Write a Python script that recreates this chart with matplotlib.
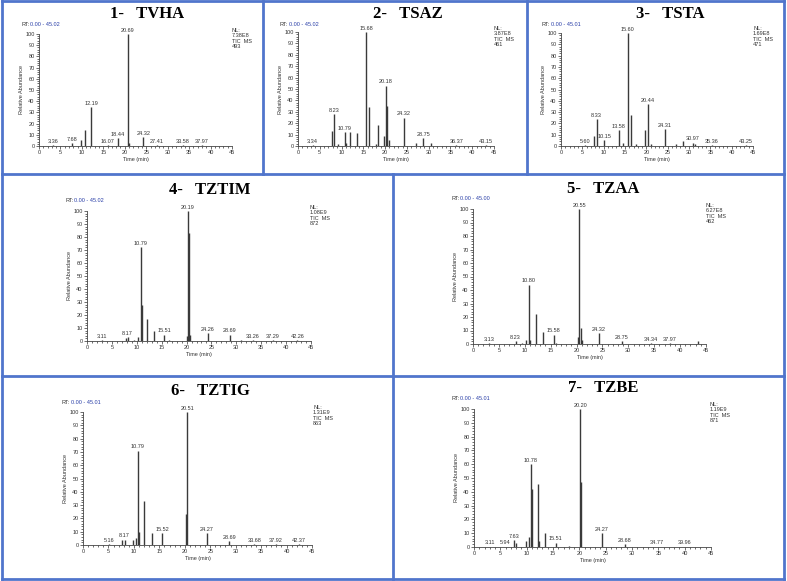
import matplotlib.pyplot as plt
from matplotlib.lines import Line2D
from matplotlib.ticker import MultipleLocator

W, H = 787, 581

# peak retention times (min), relative abundance (%) and labelled peaks
tvha_rt = [3.36, 7.68, 9.90, 10.70, 12.19, 16.07, 18.44, 20.69, 21.00, 24.32, 27.41, 33.58, 37.97]
tvha_h = [1, 3, 5, 14, 35, 1, 7, 100, 3, 8, 1, 1, 0.5]
tvha_labels = ['3.36', '7.68', '12.19', '16.07', '18.44', '20.69', '24.32', '27.41', '33.58', '37.97']

tsaz_rt = [3.34, 7.90, 8.23, 9.20, 10.79, 11.00, 12.00, 13.50, 15.68, 16.40, 17.80, 18.30,
           19.80, 20.18, 20.50, 20.80, 24.32, 27.20, 28.75, 30.50, 36.37, 43.15]
tsaz_h = [0.5, 13, 28, 2, 12, 3, 12, 11, 100, 34, 2, 18, 9, 53, 35, 5, 25, 3, 7, 3, 0.5, 0.5]
tsaz_labels = ['3.34', '8.23', '10.79', '15.68', '20.18', '24.32', '28.75', '36.37', '43.15']

tsta_rt = [5.60, 7.80, 8.33, 10.15, 13.58, 14.50, 15.60, 16.40, 17.50, 19.80, 20.44, 21.00,
           24.31, 27.00, 28.50, 30.97, 31.50, 35.36, 43.25]
tsta_h = [0.5, 9, 24, 5, 14, 3, 100, 27, 2, 14, 37, 2, 15, 2, 4, 3, 2, 0.5, 0.5]
tsta_labels = ['5.60', '8.33', '10.15', '13.58', '15.60', '20.44', '24.31', '30.97', '35.36', '43.25']

tztim_rt = [3.11, 7.90, 8.17, 9.50, 10.30, 10.79, 11.00, 12.00, 13.50, 15.51, 16.50, 20.00,
            20.19, 20.40, 20.60, 24.26, 28.69, 31.00, 33.26, 37.29, 42.26]
tztim_h = [0.5, 2, 3, 1, 3, 72, 28, 17, 8, 5, 1, 4, 100, 83, 5, 6, 5, 1, 0.5, 0.5, 0.5]
tztim_labels = ['3.11', '8.17', '10.79', '15.51', '20.19', '24.26', '28.69', '33.26', '37.29', '42.26']

tzaa_rt = [3.13, 8.23, 9.50, 10.20, 10.80, 11.00, 12.10, 13.50, 15.58, 16.00, 20.20, 20.55,
           20.80, 21.10, 24.32, 28.75, 34.34, 37.97, 43.40]
tzaa_h = [0.5, 2, 1, 3, 44, 3, 22, 9, 7, 1, 5, 100, 12, 3, 8, 2, 0.5, 0.5, 2]
tzaa_labels = ['3.13', '8.23', '10.80', '15.58', '20.55', '24.32', '28.75', '34.34', '37.97']

tztig_rt = [5.16, 7.70, 8.17, 9.90, 10.50, 10.79, 11.00, 12.00, 13.50, 15.52, 20.20, 20.51,
            24.27, 28.69, 33.68, 37.92, 42.37]
tztig_h = [0.5, 4, 4, 4, 5, 71, 10, 33, 9, 9, 23, 100, 9, 3, 0.5, 0.5, 0.5]
tztig_labels = ['5.16', '8.17', '10.79', '15.52', '20.51', '24.27', '28.69', '33.68', '37.92', '42.37']

tzbe_rt = [3.11, 5.94, 7.63, 8.00, 9.90, 10.50, 10.78, 11.00, 12.10, 12.30, 13.50, 15.51,
           18.00, 20.20, 20.40, 24.27, 28.68, 34.77, 39.96]
tzbe_h = [0.3, 0.3, 5, 3, 4, 7, 60, 42, 46, 4, 10, 3, 1, 100, 47, 10, 2, 0.3, 0.3]
tzbe_labels = ['3.11', '5.94', '7.63', '10.78', '15.51', '20.20', '24.27', '28.68', '34.77', '39.96']

titles = ['1-   TVHA', '2-   TSAZ', '3-   TSTA', '4-   TZTIM', '5-   TZAA', '6-   TZTIG', '7-   TZBE']
rt_ends = ['45.02', '45.02', '45.01', '45.02', '45.00', '45.01', '45.01']
nl_values = ['7.38E8', '3.87E8', '1.69E8', '1.08E9', '6.27E8', '1.31E9', '1.19E9']
scan_counts = ['493', '461', '471', '872', '462', '863', '871']

series = [(tvha_rt, tvha_h, tvha_labels), (tsaz_rt, tsaz_h, tsaz_labels),
          (tsta_rt, tsta_h, tsta_labels), (tztim_rt, tztim_h, tztim_labels),
          (tzaa_rt, tzaa_h, tzaa_labels), (tztig_rt, tztig_h, tztig_labels),
          (tzbe_rt, tzbe_h, tzbe_labels)]

# layout in pixels: axes (x0, x1, ytop, ybottom), title centre, RT text, NL text
axes_px = [(39, 232, 34, 146), (298, 494, 32, 146), (561, 753, 33, 146),
           (87, 311, 211, 341), (473, 706, 209, 344), (83, 312, 412, 545),
           (474, 711, 409, 547)]
title_px = [(147, 13), (408, 13), (670, 13), (210, 189), (603, 188), (210, 390), (603, 387)]
rt_px = [(21, 24), (280, 24), (542, 24), (65, 201), (451, 199), (62, 402), (451, 399)]
nl_px = [(232, 28), (494, 26), (753, 26), (310, 205), (706, 203), (313, 405), (710, 402)]

plt.rcParams['font.family'] = ['Liberation Sans', 'DejaVu Sans']
fig = plt.figure(figsize=(W / 100, H / 100), dpi=100)


def fx(x):
    return x / W


def fy(y):
    return 1 - y / H


small = 4
trace_col = '#3a3a3a'
text_col = '#333333'

for i, (rt, h, labels) in enumerate(series):
    x0, x1, yt, yb = axes_px[i]
    ax = fig.add_axes([fx(x0), fy(yb), (x1 - x0) / W, (yb - yt) / H])
    ax.vlines(rt, 0, h, color=trace_col, lw=1.0)
    for lab in labels:
        v = float(lab)
        ax.text(v, h[rt.index(v)] + 1, lab, fontsize=small, color=text_col,
                ha='center', va='bottom')
    ax.set_xlim(0, 45)
    ax.set_ylim(0, 100)
    ax.xaxis.set_major_locator(MultipleLocator(5))
    ax.xaxis.set_minor_locator(MultipleLocator(1))
    ax.yaxis.set_major_locator(MultipleLocator(10))
    ax.yaxis.set_minor_locator(MultipleLocator(2))
    ax.tick_params(which='both', labelsize=small, colors=text_col, width=0.5, pad=1)
    ax.tick_params(which='major', length=2.2)
    ax.tick_params(which='minor', length=1.1)
    for s in ['top', 'right']:
        ax.spines[s].set_visible(False)
    for s in ['left', 'bottom']:
        ax.spines[s].set_linewidth(0.6)
        ax.spines[s].set_color('#444444')
    ax.patch.set_alpha(0)
    ax.set_xlabel('Time (min)', fontsize=small, color=text_col, labelpad=1)
    ax.set_ylabel('Relative Abundance', fontsize=small, color=text_col, labelpad=0.5)

    tx, ty = title_px[i]
    fig.text(fx(tx), fy(ty + 1), titles[i], fontsize=12, fontweight='bold',
             family=['Liberation Serif', 'DejaVu Serif'], ha='center', va='center')
    rx, ry = rt_px[i]
    fig.text(fx(rx), fy(ry), 'RT:', fontsize=small, color=text_col, va='center')
    fig.text(fx(rx + 9), fy(ry), '0.00 - ' + rt_ends[i], fontsize=small,
             color='#2a3fa8', va='center')
    nx, ny = nl_px[i]
    fig.text(fx(nx), fy(ny), 'NL:\n' + nl_values[i] + '\nTIC  MS\n' + scan_counts[i],
             fontsize=small, color=text_col, va='top', ha='left', linespacing=1.1)

# blue panel frames
border = dict(color='#5075cc', lw=2.0, transform=fig.transFigure)
frame = [((2, 784), (1, 1)), ((2, 784), (579, 579)), ((2, 2), (1, 579)), ((784, 784), (1, 579)),
         ((2, 784), (174, 174)), ((2, 784), (376, 376)),
         ((263, 263), (1, 174)), ((527, 527), (1, 174)), ((393, 393), (174, 579))]
for xs, ys in frame:
    fig.add_artist(Line2D([fx(x) for x in xs], [fy(y) for y in ys], **border))

fig.savefig('out.png', dpi=100)
